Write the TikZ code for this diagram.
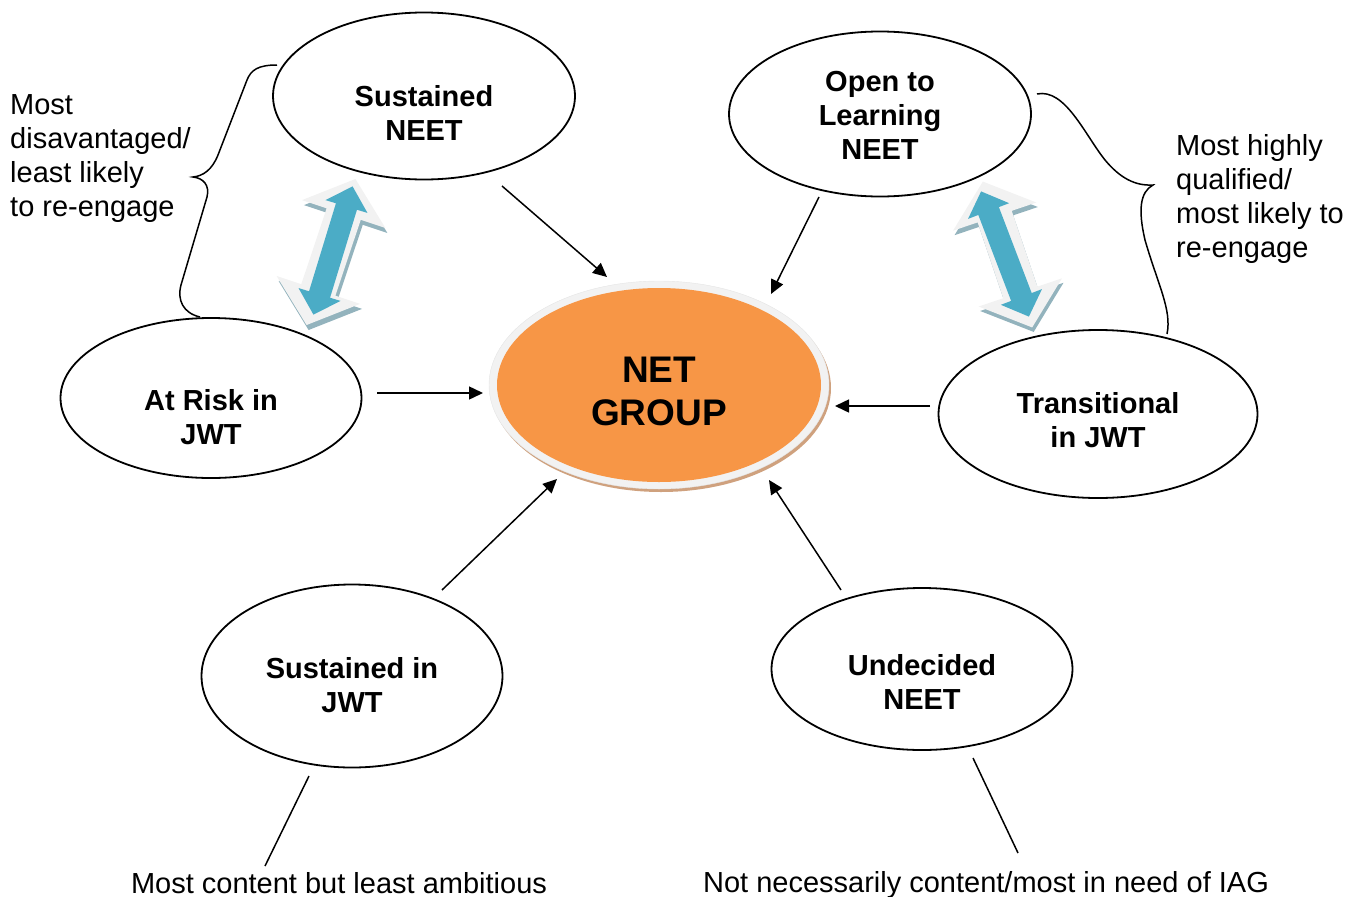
\documentclass[tikz,border=0pt]{standalone}
\usepackage{fontspec}
\setmainfont{Liberation Sans}
\usepackage{tikz}
\usetikzlibrary{shapes.geometric, arrows.meta, positioning}
\tikzset{>={Triangle[length=14pt,width=13pt]}}
\definecolor{netorange}{HTML}{F79646}
\definecolor{netshade}{HTML}{CFA17E}
\definecolor{arrowblue}{HTML}{4BACC6}
\definecolor{arrowshade}{HTML}{93B3BD}
\definecolor{rimgray}{HTML}{F2F2F2}
\tikzset{
  bubble/.style={draw, ellipse, line width=1.8pt, inner sep=0pt},
  bubbletext/.style={align=center, inner sep=0pt, font=\bfseries\fontsize{29}{34}\selectfont},
  note/.style={align=left, inner sep=0pt, font=\fontsize{29}{34}\selectfont},
  link/.style={->, line width=1.5pt},
  brace/.style={line width=1.5pt},
  twowayrim/.style={insert path={(-77,0) -- (-40,44) -- (-40,18) -- (40,18) -- (40,44) -- (77,0) -- (40,-44) -- (40,-18) -- (-40,-18) -- (-40,-44) -- cycle}},
  twoway/.style={insert path={(-67,0) -- (-46,22) -- (-46,11) -- (46,11) -- (46,22) -- (67,0) -- (46,-22) -- (46,-11) -- (-46,-11) -- (-46,-22) -- cycle}},
}

\begin{document}
\begin{tikzpicture}[x=1pt, y=-1pt]
\useasboundingbox (0,0) rectangle (1363,897);

% NET group in the middle
\fill[netshade] (661,388) ellipse [x radius=170, y radius=104];
\fill[rimgray, draw=gray!20] (659,385) ellipse [x radius=170, y radius=104];
\node[ellipse, fill=netorange, minimum width=324, minimum height=194, inner sep=0pt] (net) at (659,385) {};
\node[font=\bfseries\fontsize{37}{43}\selectfont, align=center, inner sep=0pt] (nettext) at (659,391) {NET\\GROUP};

% the six groups
\node[bubble, minimum width=302, minimum height=167] (sneet) at (424,96) {};
\node[bubbletext] (sneettext) at (424,113) {Sustained\\NEET};
\node[bubble, minimum width=302, minimum height=165] (open) at (880,114) {};
\node[bubbletext] (opentext) at (880,115) {Open to\\Learning\\NEET};
\node[bubble, minimum width=301, minimum height=160] (risk) at (211,398) {};
\node[bubbletext] (risktext) at (211,417) {At Risk in\\JWT};
\node[bubble, minimum width=319, minimum height=168] (trans) at (1098,414) {};
\node[bubbletext] (transtext) at (1098,420) {Transitional\\in JWT};
\node[bubble, minimum width=301, minimum height=183] (sjwt) at (352,676) {};
\node[bubbletext] (sjwttext) at (352,685) {Sustained in\\JWT};
\node[bubble, minimum width=301, minimum height=162] (undec) at (922,669) {};
\node[bubbletext] (undectext) at (922,682) {Undecided\\NEET};

% arrows into the NET group
\coordinate (sneetout) at (502,186);  \coordinate (sneetin) at (607,277);
\coordinate (openout) at (819,197);   \coordinate (openin) at (771,294);
\coordinate (riskout) at (377,393);   \coordinate (riskin) at (483,393);
\coordinate (transout) at (930,406);  \coordinate (transin) at (835,406);
\coordinate (sjwtout) at (442,590);   \coordinate (sjwtin) at (557,479);
\coordinate (undecout) at (841,590);  \coordinate (undecin) at (769,480);
\draw[link] (sneetout) -- (sneetin);
\draw[link] (openout) -- (openin);
\draw[link] (riskout) -- (riskin);
\draw[link] (transout) -- (transin);
\draw[link] (sjwtout) -- (sjwtin);
\draw[link] (undecout) -- (undecin);

% two-way arrows
\begin{scope}[shift={(333,257)}, rotate=71.5]
  \fill[arrowshade, twowayrim];
\end{scope}
\begin{scope}[shift={(331,252)}, rotate=71.5]
  \fill[rimgray, twowayrim];
\end{scope}
\begin{scope}[shift={(333,250.5)}, rotate=73]
  \fill[arrowblue, twoway];
\end{scope}
\begin{scope}[shift={(1009,259)}, rotate=108.7]
  \fill[arrowshade, twowayrim];
\end{scope}
\begin{scope}[shift={(1007.5,254.5)}, rotate=108.7]
  \fill[rimgray, twowayrim];
\end{scope}
\begin{scope}[shift={(1005,254)}, rotate=110.9]
  \fill[arrowblue, twoway];
\end{scope}

% braces
\draw[brace] (277,65) .. controls (258,65) and (251,70) .. (247,80) -- (218,155)
  .. controls (212,170) and (203,176) .. (193,177)
  .. controls (203,178) and (210,185) .. (207,197) -- (181,285)
  .. controls (177,300) and (183,313) .. (200,317);
\draw[brace] (1037,94) .. controls (1065,88) and (1085,135) .. (1105,160)
  .. controls (1120,178) and (1135,186) .. (1153,185)
  .. controls (1140,192) and (1138,210) .. (1145,240)
  .. controls (1158,285) and (1172,310) .. (1167,334);

% notes
\node[note, anchor=west] (leftnote) at (10,159) {Most\\disavantaged/\\least likely\\to re-engage};
\node[note, anchor=west] (rightnote) at (1176,199) {Most highly\\qualified/\\most likely to\\re-engage};
\node[note, anchor=base] (contentnote) at (339,893) {Most content but least ambitious};
\node[note, anchor=base] (iagnote) at (986,892) {Not necessarily content/most in need of IAG};
\coordinate (sjwttail) at (309,776);  \coordinate (contenttail) at (265,866);
\coordinate (undectail) at (973,758); \coordinate (iagtail) at (1018,853);
\draw[brace] (sjwttail) -- (contenttail);
\draw[brace] (undectail) -- (iagtail);
\end{tikzpicture}
\end{document}
